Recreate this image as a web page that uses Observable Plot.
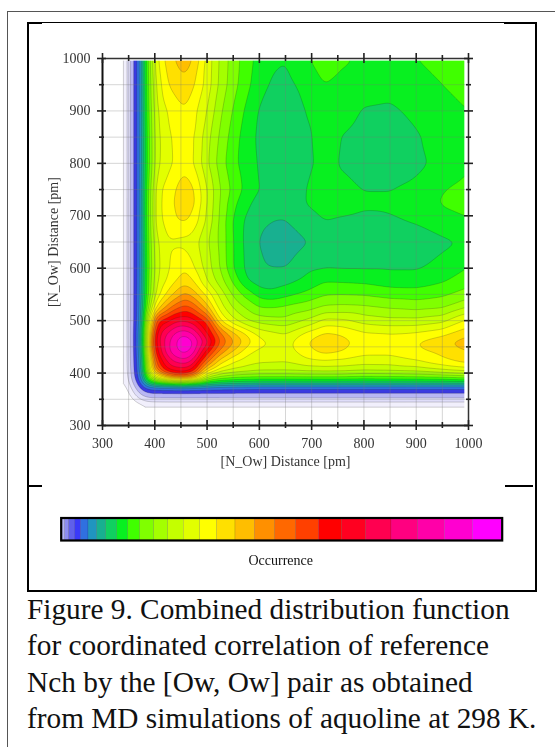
<!DOCTYPE html>
<html><head><meta charset="utf-8">
<script src="https://cdn.jsdelivr.net/npm/d3@7"></script>
<script src="https://cdn.jsdelivr.net/npm/@observablehq/plot@0.6"></script>
<style>
html,body{margin:0;padding:0;background:#fff;width:555px;height:747px;overflow:hidden}
.abs{position:absolute}
#caption{position:absolute;left:27px;top:591px;width:525px;font:29.3px/36.3px "Liberation Serif",serif;color:#111;white-space:nowrap}
#chart svg,#bar svg{display:block;filter:blur(.35px)}
</style></head><body>
<div class="abs" style="left:7px;top:10.5px;width:548px;height:760px;border:1.5px solid #555;border-right:none;box-sizing:border-box"></div>
<div class="abs" style="left:27px;top:22px;width:506px;height:567px;border:2px solid #000;border-top-width:1px"></div>
<div class="abs" style="left:27px;top:21.5px;width:15px;height:2.5px;background:#000"></div>
<div class="abs" style="left:504px;top:21.5px;width:31px;height:2.5px;background:#000"></div>
<div class="abs" style="left:29px;top:485px;width:13px;height:1.5px;background:#000"></div>
<div class="abs" style="left:505px;top:485px;width:28px;height:1.5px;background:#000"></div>
<div id="chart" class="abs" style="left:0;top:0"></div>
<div id="bar" class="abs" style="left:0;top:500px"></div>
<div id="caption">Figure 9. Combined distribution function<br>for coordinated correlation of reference<br>Nch by the [Ow, Ow] pair as obtained<br>from MD simulations of aquoline at 298 K.</div>
<script>
const xs=[340,350,358,369,376,385,395,405,425,440,458,475,500,525,550,575,600,625,650,690,725,760,800,850,900,950,1000];
const ys=[1000,950,900,850,800,750,725,690,650,600,575,550,525,500,475,458,440,425,405,396,388,380,373,361,352,345,335];
const row1000=[-.4,1.4,3,4,6.5,9.5,12,14,15.5,16.1,16.6,15.9,13.7,11.8,10.5,9.5,8.6,8.2,8.05,8.85,9.7,9.2,8.7,8.6,9,9.3,9.6];
const row950=[-.4,1.4,3,4,6.5,9.3,11.8,13.4,15,15.4,15.7,15.1,13.6,11.7,10.4,9.3,8.4,7.85,7.7,8.35,9,8.6,8.4,8.3,8.6,9,9.4];
const row900=[-.4,1.4,3,4,6.5,9.2,11.5,13,14.1,14.6,14.95,14.3,13,11.2,9.9,8.8,7.9,7.5,7.3,8.05,8.4,8.4,7.93,7.85,8.2,8.6,9];
const row850=[-.4,1.4,3,4,6.5,9,11.3,12.8,13.8,14.25,14.4,14.1,12.4,10.8,9.5,8.5,7.8,7.35,7.2,7.85,8.35,7.97,7.6,7.5,7.9,8.4,8.8];
const row800=[-.4,1.4,3,4,6.5,9,11.2,12.9,13.7,14.2,14.6,14,12.2,10.5,9.3,8.5,7.9,7.4,7.2,7.8,8.3,7.9,7.4,7.3,7.7,8.4,8.85];
const row750=[-.4,1.4,3,4,6.5,9.3,11.8,13.7,14.4,15,15.7,15.05,13,11,9.7,8.7,8,7.6,7.4,8.02,8.4,8.25,7.98,7.98,8.3,8.95,9.3];
const row725=[-.4,1.4,3,4,6.5,9.4,11.9,13.7,14.5,15.15,15.9,15.2,13,10.9,9.3,8.3,7.6,7.3,7.3,8.05,8.35,8.3,8.15,8.15,8.4,9.1,9.4];
const row690=[-.4,1.4,3,4,6.5,9.4,11.9,13.7,14.3,14.9,15.1,14.6,12.8,10.8,8.9,7.8,7.3,7.02,6.97,7.65,8,7.9,7.8,7.9,8.07,8.6,8.9];
const row650=[-.4,1.4,3,4,6.5,9.3,11.6,13,13.9,13.8,13.7,13.4,12.2,10.8,9,7.7,6.97,6.45,6.3,6.95,7.45,7.55,7.5,7.5,7.6,7.8,8.15];
const row600=[-.4,1.4,3,4,6.5,9.2,11.4,12.8,13.9,14.4,14.95,14.1,12.5,11,9,7.8,7.05,7,7,7.75,7.95,7.9,7.9,7.9,7.9,8.3,9.05];
const row575=[-.4,1.4,3,4,6.5,9.3,11.6,13,14.2,15,15.6,15,13,11.5,9.8,8.1,7.5,7.45,7.7,8.3,8.95,8.9,8.8,8.5,8.5,8.9,9.6];
const row550=[-.4,1.4,3,4,6.6,9.4,11.8,13.5,15.3,16.3,17.3,16.5,14.7,12.7,10.8,9.6,8.6,8.35,8.7,9.25,9.9,9.95,9.9,9.6,9.5,9.8,10.5];
const row525=[-.4,1.4,3,4,6.8,10,13,15.5,17.5,18.7,19.5,18.7,16.5,13.5,11.9,10.9,10,10,10.2,10.6,11.2,11.3,11.2,10.9,10.7,10.9,12.1];
const row500=[-.4,1.4,3,4,7,11.5,16,20,20.8,21.8,21.9,21.3,19.8,15,13.3,12.1,11.6,11.4,11.3,12.1,13.3,13.2,12.6,12.3,12.3,12.7,14.3];
const row475=[-.4,1.4,3,4.3,7.5,12.5,18.5,21.5,23.2,24.3,24.8,24,21,18.3,16.3,15,13.7,13.3,13,14.3,15.15,14.9,14.2,14.1,14.2,14.7,15.7];
const row458=[-.4,1.4,3,4.3,7.5,12.5,19.5,21.5,23.8,25,26.3,25,22.5,19,17.2,15.6,14.4,13.9,13.6,15,15.95,15.3,14.7,14.4,15.05,15.8,16.7];
const row440=[-.4,1.4,3,4.2,7.3,12.2,18.5,21,23.8,24.9,25.4,24.3,20.5,17.6,15.8,14.4,13.7,13.5,13.4,14.6,15.3,15,14.3,14.3,14.7,15.2,15.9];
const row425=[-.4,1.4,3,4,7,11.5,17,20,22.3,23.5,24,22.8,18.7,15.7,14.3,13.6,13.3,13.25,13.2,13.85,14.1,13.9,13.6,13.6,14.1,14.9,15.7];
const row405=[-.4,1.3,2.9,3.9,6.5,11,16,18.5,21,21.3,21.5,20.5,15.5,13.5,12.8,12.5,12.2,12.2,12.2,12.35,12.4,12.4,12.2,12.3,12.4,13,13.4];
const row396=[-.4,1.2,2.8,3.8,6,10,13.5,14.8,18.5,20,20.2,18.5,13,11.5,11,10.8,10.7,10.7,10.7,10.8,10.8,10.7,10.4,10.5,10.7,10.9,11.5];
const row388=[-.4,1,2.6,3.6,5.5,8.5,11,12.5,14.5,15.5,15.5,14.5,11,9.8,9.3,9.1,9,9,9,9,9,9,9,9,9,9.1,9.3];
const row380=[-.5,.7,2.1,3.1,4.5,6.8,8,8.5,9,9.3,9.5,9,8,7.5,7.3,7.2,7.1,7.1,7.1,7.1,7.1,7.1,7.1,7.1,7.1,7.1,7.1];
const row373=[-.6,.3,1.5,2.8,3.4,4,4.2,4.3,4.4,4.5,4.5,4.4,4.3,4.2,4.1,4.1,4,4,4,4,4,4,4,4,4,4,4];
const row361=[-.9,-.2,.8,1.8,2.5,2.9,3,3,3,3,3,3,3,3,3,3,3,3,3,3,3,3,3,3,3,3,3];
const row352=[-1,-.7,.1,1,1.5,1.8,2,2,2,2,2,2,2,2,2,2,2,2,2,2,2,2,2,2,2,2,2];
const row345=[-1,-.9,-.4,.2,.6,.9,1,1,1,1,1,1,1,1,1,1,1,1,1,1,1,1,1,1,1,1,1];
const row335=[-1,-1,-1,-.8,-.6,-.5,-.5,-.5,-.4,-.4,-.4,-.4,-.4,-.4,-.4,-.4,-.4,-.4,-.4,-.4,-.4,-.4,-.4,-.4,-.4,-.4,-.4];
const rows=[row1000,row950,row900,row850,row800,row750,row725,row690,row650,row600,row575,row550,row525,row500,row475,row458,row440,row425,row405,row396,row388,row380,row373,row361,row352,row345,row335];

const levels=[0,1,2,3,4,5,6,7,8,9,10,11,12,13,14,15,16,17,18,19,20,21,22,23,24,25,26];
const barColors=["#b4b4f4","#8c8cf0","#6060ea","#3a3af8","#3070e0","#2095c0","#18b090","#10d060","#08f020","#40ff00","#80ff00","#a4ff00","#c4ff00","#e2ff00","#ffff00","#ffe000","#ffbe00","#ff9000","#ff6800","#ff4000","#ff0000","#ff0020","#ff0050","#ff0080","#ff00a8","#ff00d0","#ff00ff"];
const fieldColors=["#f1effc","#dfddf9","#b8b6f3","#3a3ae0"].concat(barColors.slice(4));
const barEdges=[0,12,24,41,60,82,108,135,168,201,237,279,321,368,417,468,523,581,642,705,773,843,915,991,1071,1151,1235,1323];
const minor=[350,450,550,650,750,850,950];
const major=[300,400,500,600,700,800,900,1000];
const gridTicks=[...major,...minor];
const dataEndX=993, dataEndY=995;

const points=rows.flatMap((r,j)=>r.map((v,i)=>({x:xs[i],y:ys[j],v})));
const F=367, FH=367;
const chart=Plot.plot({
  width:555,height:480,marginLeft:102,marginRight:87,marginTop:58,marginBottom:55,
  style:{background:"transparent",fontFamily:"'Liberation Serif',serif",fontSize:"14px",color:"#333",overflow:"visible"},
  x:{domain:[300,1000]},y:{domain:[300,1000]},
  color:{type:"threshold",domain:levels.slice(1),range:fieldColors},
  marks:[
    Plot.contour(points,{x:"x",y:"y",fill:"v",interpolate:"barycentric",thresholds:levels,x1:340,y1:335,x2:1000,y2:1000,pixelSize:1,blur:3,stroke:"#222",strokeOpacity:.3,strokeWidth:.7}),
    Plot.rect([dataEndX],{x1:d=>d,x2:1000,y1:300,y2:1000,fill:"#fff"}),
    Plot.rect([dataEndY],{x1:300,x2:1000,y1:d=>d,y2:1000,fill:"#fff"}),
    Plot.ruleX(gridTicks,{stroke:"#777",strokeOpacity:.3,strokeWidth:1}),
    Plot.ruleY(gridTicks,{stroke:"#777",strokeOpacity:.3,strokeWidth:1}),
    Plot.ruleX([300],{stroke:"#111",strokeWidth:2}),
    Plot.ruleY([300],{stroke:"#222",strokeWidth:1.8}),
    Plot.ruleX([1000],{stroke:"#333",strokeWidth:1.5}),
    Plot.ruleY([1000],{stroke:"#333",strokeWidth:1.5}),
    Plot.tickX(major,{x:d=>d,insetTop:FH-5,insetBottom:-5,stroke:"#222",strokeWidth:1.6}),
    Plot.tickX(major,{x:d=>d,insetTop:-5,insetBottom:FH-5,stroke:"#222",strokeWidth:1.6}),
    Plot.tickX(minor,{x:d=>d,insetTop:FH-3,insetBottom:-3,stroke:"#222",strokeWidth:1.6}),
    Plot.tickX(minor,{x:d=>d,insetTop:-3,insetBottom:FH-3,stroke:"#222",strokeWidth:1.6}),
    Plot.tickY(major,{y:d=>d,insetLeft:-5,insetRight:F-5,stroke:"#222",strokeWidth:1.6}),
    Plot.tickY(major,{y:d=>d,insetLeft:F-5,insetRight:-5,stroke:"#222",strokeWidth:1.6}),
    Plot.tickY(minor,{y:d=>d,insetLeft:-3,insetRight:F-3,stroke:"#222",strokeWidth:1.6}),
    Plot.tickY(minor,{y:d=>d,insetLeft:F-3,insetRight:-3,stroke:"#222",strokeWidth:1.6}),
    Plot.axisX({ticks:major,tickSize:0,tickPadding:13,tickFormat:d=>String(d),label:"[N_Ow] Distance [pm]",labelAnchor:"center",labelArrow:"none",labelOffset:40,fontSize:14}),
    Plot.axisY({ticks:major,tickSize:0,tickPadding:12,tickFormat:d=>String(d),label:"[N_Ow] Distance [pm]",labelAnchor:"center",labelArrow:"none",labelOffset:54,fontSize:14})
  ]
});
document.getElementById("chart").append(chart);

const cells=barColors.map((c,i)=>({a:barEdges[i],b:barEdges[i+1],c}));
const bar=Plot.plot({
  width:555,height:80,marginLeft:60.7,marginRight:53.3,marginTop:17.5,marginBottom:40,
  style:{background:"transparent",fontFamily:"'Liberation Serif',serif",fontSize:"12px",color:"#111",overflow:"visible"},
  x:{domain:[0,1323],axis:null},y:{axis:null,domain:[0,1]},
  marks:[
    Plot.rectY(cells,{x1:"a",x2:"b",y1:0,y2:1,fill:d=>d.c,stroke:"#000",strokeOpacity:.2,strokeWidth:.6}),
    Plot.frame({stroke:"#000",strokeWidth:2.2}),
    Plot.text(["Occurrence"],{frameAnchor:"bottom",dy:24,dx:-1,text:d=>d,fontSize:14,fill:"#111"})
  ]
});
document.getElementById("bar").append(bar);
</script>
</body></html>
